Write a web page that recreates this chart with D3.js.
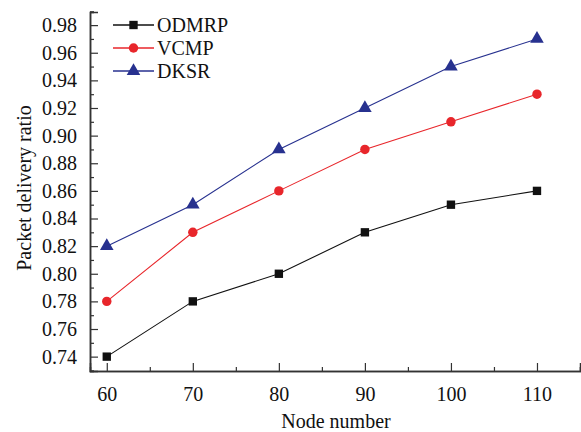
<!DOCTYPE html>
<html>
<head>
<meta charset="utf-8">
<script src="https://cdn.jsdelivr.net/npm/d3@7"></script>
<style>
  body { margin: 0; background: #fff; }
  text { font-family: "Liberation Serif", "Times New Roman", serif; }
</style>
</head>
<body>
<svg id="chart"></svg>
<script>
let width = 581;
let height = 432;

let nodes = [60, 70, 80, 90, 100, 110];
let odmrp = [0.74, 0.78, 0.80, 0.83, 0.85, 0.86];
let vcmp = [0.78, 0.83, 0.86, 0.89, 0.91, 0.93];
let dksr = [0.82, 0.85, 0.89, 0.92, 0.95, 0.97];
let seriesNames = ['ODMRP', 'VCMP', 'DKSR'];
let yTicks = [0.74, 0.76, 0.78, 0.80, 0.82, 0.84, 0.86, 0.88, 0.90, 0.92, 0.94, 0.96, 0.98];
let xTicks = [60, 70, 80, 90, 100, 110];

let series = [
  { name: seriesNames[0], values: odmrp, color: '#111111', shape: d3.symbolSquare },
  { name: seriesNames[1], values: vcmp, color: '#e8262b', shape: d3.symbolCircle },
  { name: seriesNames[2], values: dksr, color: '#27318f', shape: d3.symbolTriangle }
];

let svg = d3.select('#chart').attr('width', width).attr('height', height);

let xScale = d3.scaleLinear().domain([58.05, 115]).range([90, 580]);
let yScale = d3.scaleLinear().domain([0.7296, 0.9895]).range([371, 12]);

// axes, ticks inward
let xAxis = d3.axisBottom(xScale).tickValues(xTicks).tickSize(-8).tickPadding(16).tickFormat(d3.format('d'));
let xMinor = d3.axisBottom(xScale).tickValues([65, 75, 85, 95, 105, 115]).tickSize(-4).tickFormat('');
let yAxis = d3.axisLeft(yScale).tickValues(yTicks).tickSize(-8).tickPadding(13).tickFormat(d3.format('.2f'));
let yMinor = d3.axisLeft(yScale).tickValues(yTicks.map(v => v + 0.01).concat([0.73])).tickSize(-4).tickFormat('');

function styleAxis(g) {
  g.attr('font-family', '"Liberation Serif", serif');
  g.select('.domain').attr('stroke', '#333').attr('stroke-width', 1.5);
  g.selectAll('.tick line').attr('stroke', '#333').attr('stroke-width', 1.2);
  g.selectAll('.tick text').attr('font-size', 20).attr('fill', '#111');
}

svg.append('g').attr('transform', 'translate(0,371)').call(xMinor).call(styleAxis);
svg.append('g').attr('transform', 'translate(0,371)').call(xAxis).call(styleAxis);
svg.append('g').attr('transform', 'translate(90,0)').call(yMinor).call(styleAxis);
svg.append('g').attr('transform', 'translate(90,0)').call(yAxis).call(styleAxis);

// axis titles
svg.append('text')
  .attr('x', 336).attr('y', 428)
  .attr('text-anchor', 'middle')
  .attr('font-size', 20).attr('fill', '#111')
  .text('Node number');

svg.append('text')
  .attr('transform', 'translate(31,188) rotate(-90)')
  .attr('text-anchor', 'middle')
  .attr('font-size', 20).attr('fill', '#111')
  .text('Packet delivery ratio');

// lines and markers
let line = d3.line()
  .x((d, i) => xScale(nodes[i]))
  .y(d => yScale(d));

series.forEach(s => {
  svg.append('path')
    .datum(s.values)
    .attr('d', line)
    .attr('fill', 'none')
    .attr('stroke', s.color)
    .attr('stroke-width', 1.1);

  svg.selectAll(null)
    .data(s.values)
    .enter()
    .append('path')
    .attr('d', d3.symbol().type(s.shape).size(s.shape === d3.symbolTriangle ? 80 : 70))
    .attr('transform', (d, i) => 'translate(' + xScale(nodes[i]) + ',' + yScale(d) + ')')
    .attr('fill', s.color);
});

// legend
let legend = svg.append('g').attr('transform', 'translate(113,25)');
series.forEach((s, i) => {
  let g = legend.append('g').attr('transform', 'translate(0,' + (i * 23) + ')');
  g.append('line').attr('x1', 0).attr('x2', 41).attr('y1', 0).attr('y2', 0)
    .attr('stroke', s.color).attr('stroke-width', 1.3);
  g.append('path')
    .attr('d', d3.symbol().type(s.shape).size(s.shape === d3.symbolTriangle ? 80 : 70))
    .attr('transform', 'translate(20.5,0)')
    .attr('fill', s.color);
  g.append('text').attr('x', 44).attr('y', 7)
    .attr('font-size', 20).attr('fill', '#111')
    .text(s.name);
});
</script>
</body>
</html>
